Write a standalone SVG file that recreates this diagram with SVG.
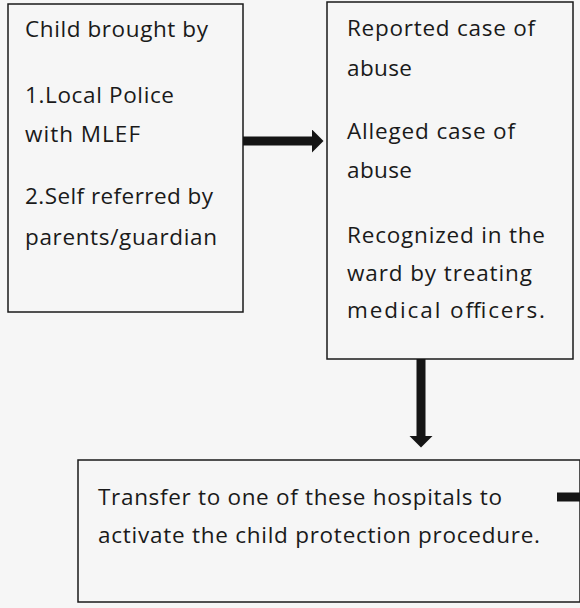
<svg xmlns="http://www.w3.org/2000/svg" width="580" height="608" viewBox="0 0 580 608">
  <defs>
    <style>
      .box { fill: none; stroke: #1a1a1a; stroke-width: 1.5; }
      .t { font-family: "Open Sans", "Liberation Sans", sans-serif; font-size: 22.5px; fill: #1a1a1a; }
      .conn { stroke: #151515; stroke-width: 9; fill: none; }
    </style>
    <marker id="head" markerUnits="userSpaceOnUse" viewBox="0 0 12 24" markerWidth="12" markerHeight="24" refX="0.5" refY="12" orient="auto">
      <path d="M0,0 L12,12 L0,24 Z" fill="#151515"/>
    </marker>
  </defs>
  <rect width="580" height="608" fill="#f6f6f6"/>

  <g id="node-brought">
    <rect class="box" x="8" y="4" width="235" height="308"/>
    <text class="t" x="25" y="37" textLength="183" lengthAdjust="spacing">Child brought by</text>
    <text class="t" x="25" y="103" textLength="149" lengthAdjust="spacing">1.Local Police</text>
    <text class="t" x="25" y="142" textLength="115" lengthAdjust="spacing">with MLEF</text>
    <text class="t" x="25" y="204" textLength="188" lengthAdjust="spacing">2.Self referred by</text>
    <text class="t" x="25" y="245" textLength="192" lengthAdjust="spacing">parents/guardian</text>
  </g>

  <g id="node-cases">
    <rect class="box" x="327" y="2" width="246" height="357"/>
    <text class="t" x="347" y="36" textLength="188" lengthAdjust="spacing">Reported case of</text>
    <text class="t" x="347" y="76" textLength="65" lengthAdjust="spacing">abuse</text>
    <text class="t" x="347" y="139" textLength="168" lengthAdjust="spacing">Alleged case of</text>
    <text class="t" x="347" y="178" textLength="65" lengthAdjust="spacing">abuse</text>
    <text class="t" x="347" y="243" textLength="198" lengthAdjust="spacing">Recognized in the</text>
    <text class="t" x="347" y="281" textLength="185" lengthAdjust="spacing">ward by treating</text>
    <text class="t" x="347" y="318" textLength="198" lengthAdjust="spacing">medical officers.</text>
  </g>

  <g id="node-transfer">
    <rect class="box" x="78" y="460" width="502" height="142"/>
    <text class="t" x="98" y="505" textLength="404" lengthAdjust="spacing">Transfer to one of these hospitals to</text>
    <text class="t" x="98" y="543" textLength="442" lengthAdjust="spacing">activate the child protection procedure.</text>
  </g>

  <g id="connectors">
    <line class="conn" x1="243" y1="141" x2="312" y2="141" marker-end="url(#head)"/>
    <line class="conn" x1="421" y1="359" x2="421" y2="436" marker-end="url(#head)"/>
    <line class="conn" x1="557" y1="497" x2="580" y2="497"/>
  </g>
</svg>
